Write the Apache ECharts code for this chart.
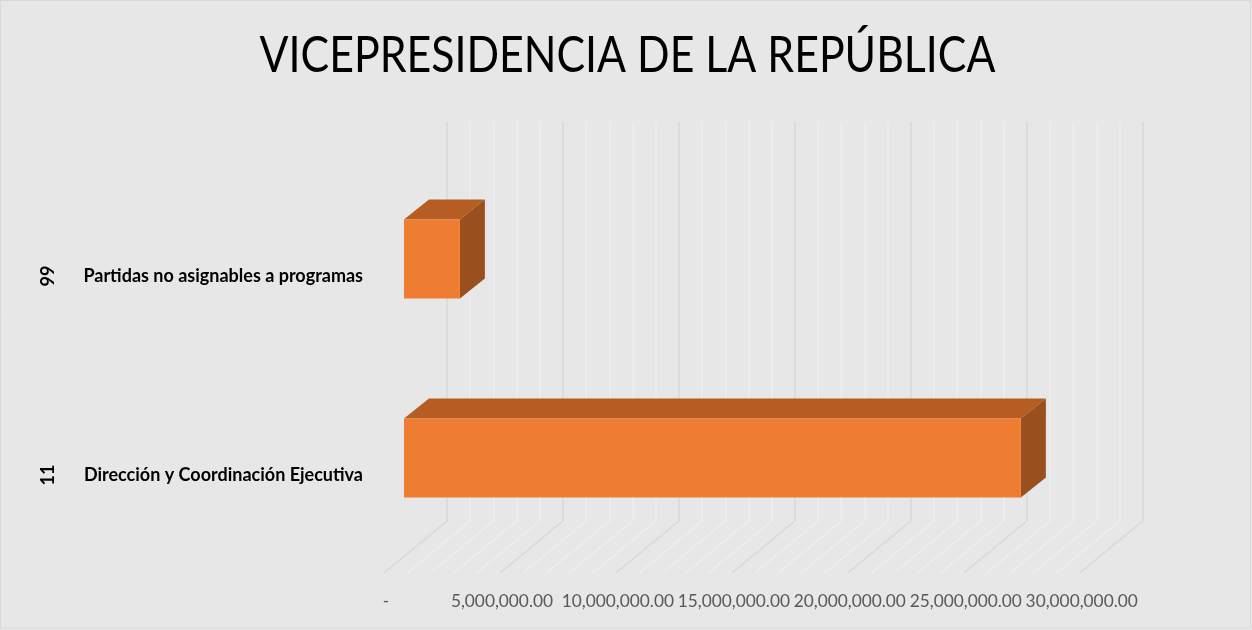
<!DOCTYPE html>
<html>
<head>
<meta charset="utf-8">
<style>
html,body{margin:0;padding:0;background:#fff;}
#c{width:1252px;height:630px;}
</style>
<script src="https://cdn.jsdelivr.net/npm/echarts@6/dist/echarts.min.js"></script>
</head>
<body>
<div id="c"></div>
<script>
const titleText = 'VICEPRESIDENCIA DE LA REPÚBLICA';
const categories = ['Dirección y Coordinación Ejecutiva', 'Partidas no asignables a programas'];
const codes = ['11', '99'];
const values = [26600000, 2410000];
const axisMin = 0;
const axisMax = 30000000;
const axisStep = 5000000;
const floorMajor = [0, 5000000, 10000000, 15000000, 20000000, 25000000, 30000000];
const floorMinor = [1000000, 2000000, 3000000, 4000000, 6000000, 7000000, 8000000, 9000000, 11000000, 12000000, 13000000, 14000000, 16000000, 17000000, 18000000, 19000000, 21000000, 22000000, 23000000, 24000000, 26000000, 27000000, 28000000, 29000000];

const FONT = 'Lato';
const BG = '#e7e7e7';
const MAJOR = '#d9d9d9';
const MINOR = '#eeeeee';

// Excel-style 3D geometry, in pixels
const depthX = 25, depthY = 20;      // bar depth
const barShiftX = 18, barShiftY = -17; // bar plane relative to label plane
const barHeight = 79;
const floorX = 63, floorY = 52;      // floor depth

function renderBar(params, api) {
  const p = api.coord([api.value(0), api.value(1)]);
  const p0 = api.coord([0, api.value(1)]);
  const x0 = p0[0] + barShiftX, x1 = p[0] + barShiftX;
  const yT = p[1] + barShiftY - barHeight / 2, yB = p[1] + barShiftY + barHeight / 2;
  return {
    type: 'group',
    children: [
      { type: 'polygon', shape: { points: [[x0, yT], [x1, yT], [x1 + depthX, yT - depthY], [x0 + depthX, yT - depthY]] }, style: { fill: '#b55d22' } },
      { type: 'polygon', shape: { points: [[x1, yT], [x1 + depthX, yT - depthY], [x1 + depthX, yB - depthY], [x1, yB]] }, style: { fill: '#9a501e' } },
      { type: 'rect', shape: { x: x0, y: yT, width: x1 - x0, height: yB - yT }, style: { fill: '#ee7d31' } }
    ]
  };
}
function renderFloor(color) {
  return function (params, api) {
    const x = api.coord([api.value(0), 0])[0];
    const y = params.coordSys.y + params.coordSys.height;
    return { type: 'line', shape: { x1: x, y1: y, x2: x - floorX, y2: y + floorY }, style: { stroke: color, lineWidth: 1.5 } };
  };
}

const chart = echarts.init(document.getElementById('c'), null, { renderer: 'canvas' });
chart.setOption({
  animation: false,
  backgroundColor: BG,
  graphic: [
    { type: 'rect', silent: true, z: -10, shape: { x: 0.5, y: 0.5, width: 1250, height: 627.5 }, style: { fill: 'none', stroke: '#d9d9d9', lineWidth: 1 } },
    { type: 'text', silent: true, x: 627.5, y: 56, scaleX: 0.84, style: { text: titleText, align: 'center', verticalAlign: 'middle', fontFamily: FONT, fontSize: 51, fontWeight: 400, fill: '#000' } }
  ],
  grid: [
    { left: 447, width: 695.7, top: 122, height: 399 },
    { left: 386, width: 695.7, top: 176.5, height: 398 }
  ],
  xAxis: [
    { gridIndex: 0, type: 'value', min: axisMin, max: axisMax, interval: axisStep,
      axisLine: { show: false }, axisTick: { show: false }, axisLabel: { show: false },
      splitLine: { show: true, lineStyle: { color: MAJOR, width: 1.5 } },
      minorTick: { show: false, splitNumber: 5 },
      minorSplitLine: { show: true, lineStyle: { color: MINOR, width: 1.5 } } },
    { gridIndex: 1, type: 'value', min: axisMin, max: axisMax, interval: axisStep,
      axisLine: { show: false }, axisTick: { show: false }, splitLine: { show: false },
      axisLabel: { margin: 18, color: '#595959', fontFamily: FONT, fontSize: 17.3, hideOverlap: false, showMinLabel: true, showMaxLabel: true,
        formatter: v => v === 0 ? '-' : v.toLocaleString('en-US', { minimumFractionDigits: 2, maximumFractionDigits: 2 }) } }
  ],
  yAxis: [
    { gridIndex: 0, type: 'category', data: categories, show: false },
    { gridIndex: 1, type: 'category', data: categories,
      axisLine: { show: false }, axisTick: { show: false }, splitLine: { show: false },
      axisLabel: { margin: 23, color: '#000', fontFamily: FONT, fontSize: 18, fontWeight: 'bold' } },
    { gridIndex: 1, type: 'category', position: 'left', data: codes,
      axisLine: { show: false }, axisTick: { show: false }, splitLine: { show: false },
      axisLabel: { rotate: 90, margin: 329, color: '#000', fontFamily: FONT, fontSize: 18, fontWeight: 'bold' } }
  ],
  series: [
    { type: 'custom', xAxisIndex: 0, yAxisIndex: 0, coordinateSystem: 'cartesian2d', clip: false, silent: true,
      data: floorMinor.map(v => [v]), encode: { x: 0 }, renderItem: renderFloor(MINOR), z: 1 },
    { type: 'custom', xAxisIndex: 0, yAxisIndex: 0, coordinateSystem: 'cartesian2d', clip: false, silent: true,
      data: floorMajor.map(v => [v]), encode: { x: 0 }, renderItem: renderFloor(MAJOR), z: 2 },
    { type: 'custom', xAxisIndex: 1, yAxisIndex: 1, coordinateSystem: 'cartesian2d', clip: false, silent: true,
      data: values.map((v, i) => [v, i]), encode: { x: 0, y: 1 }, renderItem: renderBar, z: 5 }
  ]
});
</script>
</body>
</html>
